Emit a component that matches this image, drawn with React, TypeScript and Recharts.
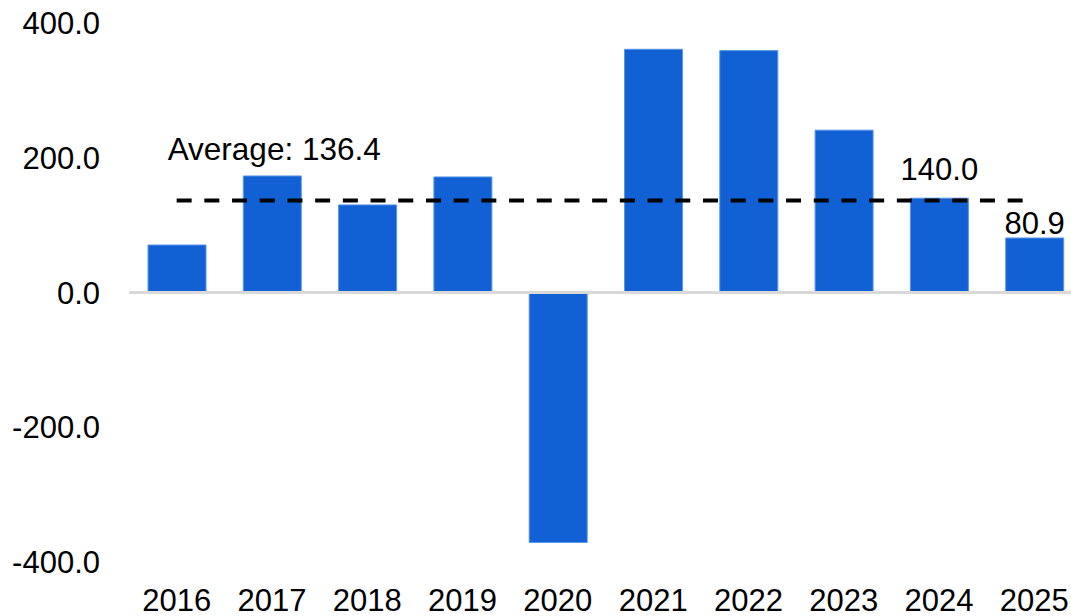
import { ComposedChart, Bar, Line, XAxis, YAxis, ReferenceLine, LabelList } from 'recharts';

const years = ['2016', '2017', '2018', '2019', '2020', '2021', '2022', '2023', '2024', '2025'];
const values = [70.5, 173, 130, 171.5, -371, 361, 359, 241, 140.0, 80.9];
const labelledYears = ['2024', '2025'];
const average = 136.4;
const yTicks = [-400, -200, 0, 200, 400];

const data = years.map((year, i) => ({ year, value: values[i], avg: average }));

const FONT = 'Arial, "Liberation Sans", sans-serif';

const BarValueLabel = (props: any) => {
  const { x, y, width, value, index } = props;
  if (!labelledYears.includes(years[index])) return null;
  // 2024 label sits above the dashed average line
  const gap = years[index] === '2024' ? 18 : 4;
  return (
    <text x={x + width / 2} y={y - gap} textAnchor="middle" fontSize={31} fontFamily={FONT} fill="#000">
      {Number(value).toFixed(1)}
    </text>
  );
};

const AverageLabel = (props: any) => {
  const { x, y, index } = props;
  if (index !== 0) return null;
  return (
    <text x={x - 9} y={y - 41} textAnchor="start" fontSize={31.5} fontFamily={FONT} fill="#000">
      {`Average: ${average.toFixed(1)}`}
    </text>
  );
};

export default function App() {
  return (
    <div style={{ position: 'absolute', left: 0, top: 0, width: 1071, height: 616, overflow: 'hidden' }}>
      <ComposedChart width={1088} height={616} data={data} margin={{ top: 23, right: 6, left: 0, bottom: 0 }}>
        <XAxis
          dataKey="year"
          axisLine={false}
          tickLine={false}
          tickSize={0}
          tickMargin={27}
          height={54}
          interval={0}
          tick={{ fontSize: 31, fontFamily: FONT, fill: '#000' }}
        />
        <YAxis
          domain={[-400, 400]}
          ticks={yTicks}
          width={129}
          axisLine={false}
          tickLine={false}
          tickSize={0}
          tickMargin={29}
          tickFormatter={(v: number) => v.toFixed(1)}
          tick={{ fontSize: 31, fontFamily: FONT, fill: '#000' }}
        />
        <ReferenceLine y={0} stroke="#d9d9d9" strokeWidth={3} />
        <Bar dataKey="value" fill="#1161d5" stroke="#5a96e6" strokeWidth={1} barSize={58} isAnimationActive={false}>
          <LabelList dataKey="value" content={BarValueLabel} />
        </Bar>
        <Line
          dataKey="avg"
          stroke="#000"
          strokeWidth={4}
          strokeDasharray="15 12.7"
          dot={false}
          activeDot={false}
          isAnimationActive={false}
        >
          <LabelList dataKey="avg" content={AverageLabel} />
        </Line>
      </ComposedChart>
    </div>
  );
}
